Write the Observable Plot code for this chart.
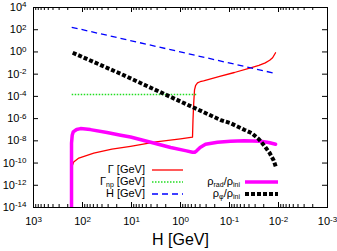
<!DOCTYPE html>
<html><head><meta charset="utf-8">
<script src="https://cdn.jsdelivr.net/npm/d3@7"></script>
<script src="https://cdn.jsdelivr.net/npm/@observablehq/plot@0.6"></script>
<style>
body{margin:0;background:#fff;}
#wrap{position:relative;width:337px;height:251px;font-family:"Liberation Sans",Arial,sans-serif;}
.row{position:absolute;font-size:11px;line-height:11px;white-space:nowrap;color:#000;text-align:right}
.row sub{font-size:7px;vertical-align:-1.5px;line-height:0}
.sw{position:absolute}
</style></head><body><div id="wrap"></div>
<script>
// ---- data (log10 of H [GeV] and log10 of the plotted value) ----
const hubbleLogH = [2.22, -1.94];
const hubbleLogV = [2.22, -1.94];

const gnpLogH = [2.22, -0.33];
const gnpLogV = [-3.82, -3.82];

const gammaLogH = [2.224, 2.215, 2.18, 2.075, 1.77, 1.4, 1.02, 0.5, 0.0, -0.245, -0.255, -0.27, -0.286, -0.31, -0.347, -0.40, -0.47, -0.8, -1.1, -1.43, -1.6, -1.73, -1.82, -1.88, -1.94];
const gammaLogV = [-10.7, -10.3, -9.91, -9.55, -9.10, -8.75, -8.49, -8.1, -7.82, -7.67, -6.1, -4.6, -3.42, -3.0, -2.79, -2.68, -2.61, -2.2, -1.85, -1.43, -1.2, -0.98, -0.75, -0.52, -0.07];

const radLogH = [2.224, 2.224, 2.21, 2.19, 2.12, 2.04, 1.84, 1.5, 1.22, 1.02, 0.55, 0.2, -0.1, -0.245, -0.29, -0.33, -0.4, -0.51, -0.755, -1.02, -1.3, -1.63, -1.8, -1.94];
const radLogV = [-15, -8.2, -7.5, -7.2, -6.98, -6.9, -6.99, -7.25, -7.49, -7.65, -8.2, -8.6, -8.88, -9.03, -9.03, -8.9, -8.6, -8.31, -8.13, -8.04, -8.0, -8.04, -8.15, -8.31];

const phiLogH = [2.2, 1.22, -0.245, -0.82, -1.02, -1.3, -1.45, -1.6, -1.72, -1.82, -1.9, -1.95];
const phiLogV = [-0.07, -1.97, -4.96, -6.13, -6.41, -7.0, -7.3, -7.85, -8.5, -9.1, -9.75, -10.4];

const xTicks = [1e3, 1e2, 1e1, 1e0, 1e-1, 1e-2, 1e-3];
const yTicks = [1e4, 1e2, 1e0, 1e-2, 1e-4, 1e-6, 1e-8, 1e-10, 1e-12, 1e-14];

// ---- build tables ----
const toRows = (lh, lv) => lh.map((h, i) => ({H: 10 ** h, v: 10 ** lv[i]}));
const hubble = toRows(hubbleLogH, hubbleLogV);
const gnp = toRows(gnpLogH, gnpLogV);
const gamma = toRows(gammaLogH, gammaLogV);
const rad = toRows(radLogH, radLogV);
const phi = toRows(phiLogH, phiLogV);

const minorX = [];
for (let e = -3; e < 3; e++) for (let m = 2; m < 10; m++) minorX.push(m * 10 ** e);

const W = 337, Ht = 251, mL = 33, mR = 10, mT = 7, mB = 44;
const iw = W - mL - mR, ih = Ht - mT - mB;
const fmt = d => "10^" + Math.round(Math.log10(d));

const chart = Plot.plot({
  width: W, height: Ht,
  marginLeft: mL, marginRight: mR, marginTop: mT, marginBottom: mB,
  style: {fontFamily: "'Liberation Sans', Arial, sans-serif", fontSize: "11px", color: "#000", background: "#fff", overflow: "visible"},
  x: {type: "log", domain: [1e3, 1e-3], label: null},
  y: {type: "log", domain: [1e-14, 1e4], label: null},
  marks: [
    Plot.line(gamma, {x: "H", y: "v", stroke: "#ff0000", strokeWidth: 1.3, clip: true}),
    Plot.line(gnp, {x: "H", y: "v", stroke: "#22dd22", strokeWidth: 1.5, strokeDasharray: "1.5,1.5", strokeLinecap: "butt"}),
    Plot.line(hubble, {x: "H", y: "v", stroke: "#0000ff", strokeWidth: 1.3, strokeDasharray: "6,4", strokeLinecap: "butt"}),
    Plot.line(rad, {x: "H", y: "v", stroke: "#ff00ff", strokeWidth: 3.5, clip: true}),
    Plot.line(phi, {x: "H", y: "v", stroke: "#000", strokeWidth: 4, strokeDasharray: "4,2", strokeLinecap: "butt", strokeLinejoin: "miter"}),
    Plot.frame({stroke: "#000", strokeWidth: 1}),
    Plot.tickX(xTicks, {x: d => d, insetTop: ih - 5}),
    Plot.tickX(xTicks, {x: d => d, insetBottom: ih - 5}),
    Plot.tickX(minorX, {x: d => d, insetTop: ih - 3}),
    Plot.tickX(minorX, {x: d => d, insetBottom: ih - 3}),
    Plot.tickY(yTicks, {y: d => d, insetRight: iw - 5}),
    Plot.tickY(yTicks, {y: d => d, insetLeft: iw - 5}),
    Plot.axisX({ticks: xTicks, tickFormat: fmt, tickSize: 0, tickPadding: 10, label: null}),
    Plot.axisY({ticks: yTicks, tickFormat: fmt, tickSize: 0, tickPadding: 7, label: null}),
    Plot.text(["H [GeV]"], {text: d => d, frameAnchor: "bottom", dy: 32, fontSize: 16, lineAnchor: "middle"})
  ]
});

// superscripts in tick labels
chart.querySelectorAll('g[aria-label="x-axis tick label"] text, g[aria-label="y-axis tick label"] text').forEach(t => {
  const s = t.textContent;
  if (!s.includes("^")) return;
  const [b, e] = s.split("^");
  t.textContent = b;
  const ts = document.createElementNS("http://www.w3.org/2000/svg", "tspan");
  ts.setAttribute("dy", "-0.45em");
  ts.setAttribute("font-size", "8px");
  ts.textContent = e;
  t.appendChild(ts);
});

const wrap = document.getElementById("wrap");
wrap.appendChild(chart);

// ---- legend (HTML overlay) ----
const legendLabels = ["Γ [GeV]", "Γ<sub>np</sub> [GeV]", "H [GeV]", "ρ<sub>rad</sub>/ρ<sub>ini</sub>", "ρ<sub>φ</sub>/ρ<sub>ini</sub>"];
const legendStyles = [
  {stroke: "#ff0000", w: 1.3, dash: null},
  {stroke: "#22dd22", w: 1.5, dash: "1.5,1.5"},
  {stroke: "#0000ff", w: 1.3, dash: "6,4"},
  {stroke: "#ff00ff", w: 3.5, dash: null},
  {stroke: "#000", w: 4, dash: "4,2"}
];
const legendPos = [
  {right: 145, y: 169.5, x0: 152, x1: 183},
  {right: 145, y: 181.5, x0: 152, x1: 183},
  {right: 145, y: 193.5, x0: 152, x1: 183},
  {right: 240, y: 181.5, x0: 245, x1: 278},
  {right: 240, y: 193.5, x0: 245, x1: 278}
];
legendLabels.forEach((lab, i) => {
  const p = legendPos[i], st = legendStyles[i];
  const d = document.createElement("div");
  d.className = "row";
  d.style.right = (W - p.right) + "px";
  d.style.top = (p.y - 6) + "px";
  d.innerHTML = lab;
  wrap.appendChild(d);
  const svg = document.createElementNS("http://www.w3.org/2000/svg", "svg");
  svg.setAttribute("class", "sw");
  svg.setAttribute("width", p.x1 - p.x0);
  svg.setAttribute("height", 8);
  svg.style.left = p.x0 + "px";
  svg.style.top = (p.y - 4) + "px";
  const ln = document.createElementNS("http://www.w3.org/2000/svg", "line");
  ln.setAttribute("x1", 0); ln.setAttribute("x2", p.x1 - p.x0);
  ln.setAttribute("y1", 4); ln.setAttribute("y2", 4);
  ln.setAttribute("stroke", st.stroke);
  ln.setAttribute("stroke-width", st.w);
  if (st.dash) ln.setAttribute("stroke-dasharray", st.dash);
  svg.appendChild(ln);
  wrap.appendChild(svg);
});
</script></body></html>
